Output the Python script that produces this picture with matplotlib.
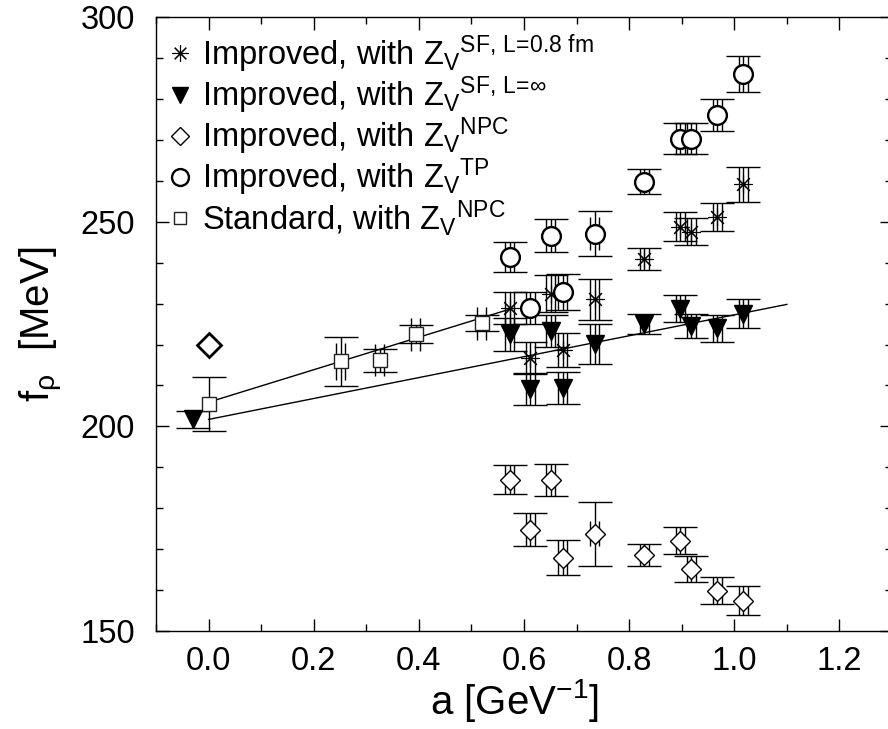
import numpy as np
import matplotlib
matplotlib.use('Agg')
import matplotlib.pyplot as plt
from matplotlib.ticker import MultipleLocator, FormatStrFormatter
from matplotlib.transforms import ScaledTranslation

plt.rcParams['font.family'] = ['Liberation Sans', 'DejaVu Sans']
plt.rcParams['mathtext.fontset'] = 'custom'
plt.rcParams['mathtext.rm'] = 'Liberation Sans'
plt.rcParams['mathtext.it'] = 'Liberation Sans'
plt.rcParams['mathtext.default'] = 'regular'

# lattice spacings of the improved runs [GeV^-1]
a_imp = [0.573, 0.612, 0.651, 0.674, 0.735, 0.829, 0.897, 0.918, 0.968, 1.017]

# Improved, Z_V^{SF, L=0.8 fm}  (asterisks)
f_sf08 = [228.9, 216.7, 232.4, 218.6, 231.1, 240.9, 248.8, 247.5, 251.2, 259.1]
e_sf08 = [4.0, 4.0, 4.5, 4.2, 5.0, 2.7, 3.5, 3.3, 3.4, 4.2]

# Improved, Z_V^{SF, L=inf}  (filled triangles)
f_sfinf = [222.5, 209.1, 223.3, 209.3, 220.1, 225.0, 228.7, 224.5, 224.0, 227.5]
e_sfinf = [4.0, 3.9, 4.0, 3.9, 4.8, 2.5, 3.3, 3.0, 3.3, 3.5]

# Improved, Z_V^{NPC}  (diamonds)
f_npc = [187.0, 174.8, 187.0, 167.9, 173.8, 168.6, 172.1, 165.2, 159.8, 157.4]
e_npc = [3.6, 4.0, 3.9, 4.3, 7.8, 2.7, 3.3, 3.2, 3.3, 3.6]
s_npc = [3.6, 4.0, 3.9, 4.3, 3.0, 2.7, 3.3, 3.2, 3.3, 3.6]

# Improved, Z_V^{TP}  (circles)
f_tp = [241.4, 228.9, 246.6, 232.8, 247.1, 259.8, 270.3, 270.3, 276.0, 286.0]
e_tp = [3.7, 4.0, 4.0, 4.4, 5.5, 3.0, 3.8, 3.8, 3.9, 4.4]
s_tp = [3.7, 4.0, 4.0, 4.4, 4.0, 3.0, 3.8, 3.8, 3.9, 4.4]

# Standard, Z_V^{NPC}  (squares)
a_std = [0.0, 0.251, 0.326, 0.394, 0.520]
f_std = [205.4, 215.9, 216.2, 222.5, 225.2]
e_std = [6.6, 6.0, 2.8, 2.2, 2.0]
s_std = [0.0, 4.5, 4.0, 4.0, 4.0]

# continuum value of the SF, L=inf set and experiment
a_cont = [-0.03]
f_cont = [201.7]
e_cont = [2.0]
a_exp = [0.0]
f_exp = [219.8]

# linear fits
fit_std_a = [0.0, 0.577]
fit_std_f = [205.9, 228.8]
fit_imp_a = [0.0, 1.10]
fit_imp_f = [201.7, 229.8]

labels = [
    r'Improved, with ${Z_V}^{SF,\,L\!=\!0.8\ fm}$',
    r'Improved, with ${Z_V}^{SF,\,L\!=\!\infty}$',
    r'Improved, with ${Z_V}^{NPC}$',
    r'Improved, with ${Z_V}^{TP}$',
    r'Standard, with ${Z_V}^{NPC}$',
]

fig = plt.figure(figsize=(8.88, 7.29), dpi=100)
ax = fig.add_axes([0.1757, 0.1344, 0.8288, 0.8422])

left = ax.transData + ScaledTranslation(-0.045, 0, fig.dpi_scale_trans)
right = ax.transData + ScaledTranslation(0.045, 0, fig.dpi_scale_trans)


def draw_errors(x, y, err, stat):
    x = np.asarray(x)
    y = np.asarray(y)
    ax.errorbar(x, y, yerr=err, fmt='none', ecolor='k', elinewidth=1.0,
                capsize=12, capthick=1.0, zorder=2)
    st = np.asarray(stat)
    for tr in (left, right):
        ax.vlines(x, y - st, y + st, colors='k', linewidth=1.0,
                  transform=tr, zorder=2)


draw_errors(a_imp, f_sf08, e_sf08, e_sf08)
draw_errors(a_imp, f_sfinf, e_sfinf, e_sfinf)
draw_errors(a_imp, f_npc, e_npc, s_npc)
draw_errors(a_imp, f_tp, e_tp, s_tp)
draw_errors(a_std, f_std, e_std, s_std)
ax.errorbar(a_cont, f_cont, yerr=e_cont, fmt='none', ecolor='k',
            elinewidth=1.0, capsize=12, capthick=1.0, zorder=2)

ax.plot(fit_std_a, fit_std_f, color='k', lw=1.0, zorder=2)
ax.plot(fit_imp_a, fit_imp_f, color='k', lw=1.0, zorder=2)

ax.plot(a_imp, f_sf08, ls='none', marker=(8, 2, 0), ms=13, mec='k', mew=0.8,
        zorder=3, label=labels[0])
ax.plot(a_imp, f_sfinf, ls='none', marker='v', ms=13, mfc='k', mec='k',
        zorder=3, label=labels[1])
ax.plot(a_imp, f_npc, ls='none', marker='D', ms=10.5, mfc='white', mec='k',
        mew=1.0, zorder=3, label=labels[2])
ax.plot(a_imp, f_tp, ls='none', marker='o', ms=13.5, mfc='white', mec='k',
        mew=1.7, zorder=3, label=labels[3])
ax.plot(a_std, f_std, ls='none', marker='s', ms=10, mfc='white', mec='#222222',
        mew=1.0, zorder=3, label=labels[4])

ax.plot(a_cont, f_cont, ls='none', marker='v', ms=13, mfc='k', mec='k', zorder=3)
ax.plot(a_exp, f_exp, ls='none', marker='D', ms=12, mfc='white', mec='k',
        mew=2.0, zorder=3)

ax.set_xlim(-0.1, 1.3)
ax.set_ylim(150, 300)
ax.xaxis.set_major_locator(MultipleLocator(0.2))
ax.xaxis.set_minor_locator(MultipleLocator(0.1))
ax.yaxis.set_major_locator(MultipleLocator(50))
ax.yaxis.set_minor_locator(MultipleLocator(10))
ax.xaxis.set_major_formatter(FormatStrFormatter('%.1f'))
ax.tick_params(which='both', direction='in', top=True, right=True, width=1.0)
ax.tick_params(which='major', length=9)
ax.tick_params(which='minor', length=5)
ax.tick_params(axis='x', labelsize=23.5, pad=11)
ax.tick_params(axis='y', labelsize=23.5, pad=15)
for sp in ax.spines.values():
    sp.set_linewidth(1.0)

ax.set_xlabel(r'a [GeV$^{-1}$]', fontsize=29, labelpad=0, x=0.487)
ax.set_ylabel(r'f$_\rho$  [MeV]', fontsize=29, labelpad=11)

ax.legend(loc='upper left', bbox_to_anchor=(0.0163, 0.9755), fontsize=23.5,
          frameon=False, handlelength=0.74, handletextpad=0.3, borderpad=0.0,
          borderaxespad=0.0, labelspacing=-0.01, markerscale=0.9)

fig.savefig('out.png', dpi=100)
